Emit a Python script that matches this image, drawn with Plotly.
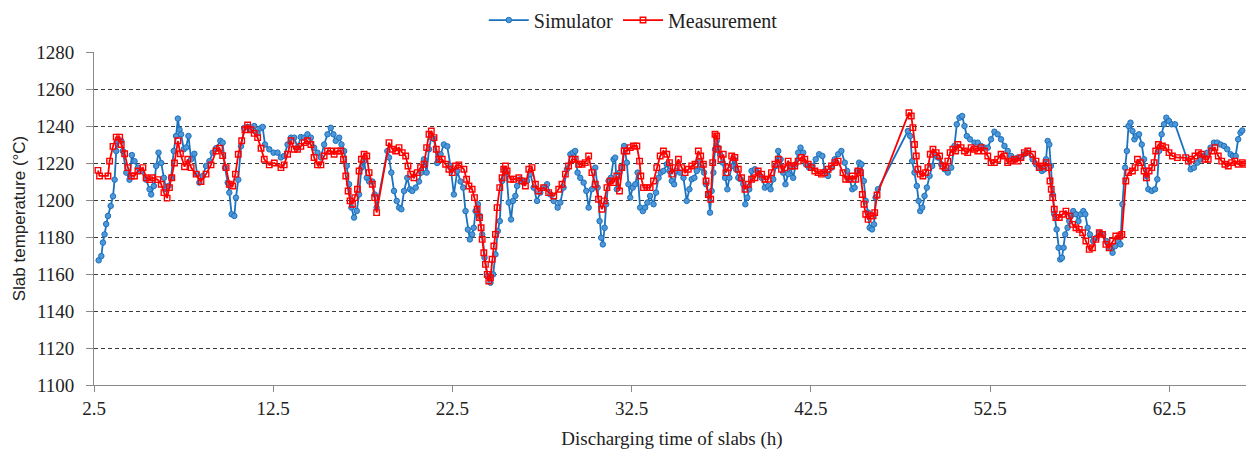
import plotly.graph_objects as go

# ---- Data ----
sim_x = [2.76, 2.91, 3.00, 3.09, 3.18, 3.28, 3.43, 3.56, 3.65, 3.74, 3.83, 4.02, 4.11, 4.30, 4.48, 4.61, 4.76, 4.95, 5.13, 5.41,
         5.60, 5.69, 5.84, 5.97, 6.10, 6.25, 6.40, 6.53, 6.66, 6.80, 6.95, 7.08, 7.18, 7.27, 7.36, 7.51, 7.64, 7.77, 7.92, 8.10,
         8.25, 8.38, 8.57, 8.75, 8.94, 9.12, 9.31, 9.55, 9.68, 9.81, 9.96, 10.05, 10.18, 10.33, 10.42, 10.55, 10.70, 10.89, 11.07, 11.26,
         11.44, 11.63, 11.78, 11.91, 12.04, 12.28, 12.52, 12.74, 12.93, 13.11, 13.30, 13.49, 13.67, 13.86, 14.04, 14.23, 14.41, 14.60, 14.78, 14.97,
         15.16, 15.34, 15.53, 15.71, 15.86, 15.99, 16.18, 16.31, 16.46, 16.60, 16.73, 16.86, 17.01, 17.16, 17.29, 17.42, 17.57, 17.72, 17.85, 18.03,
         18.16, 18.27, 18.87, 18.96, 19.09, 19.24, 19.39, 19.52, 19.65, 19.80, 19.98, 20.13, 20.26, 20.45, 20.63, 20.76, 20.91, 21.06, 21.19, 21.32,
         21.47, 21.65, 21.84, 22.02, 22.21, 22.39, 22.58, 22.77, 22.95, 23.10, 23.23, 23.36, 23.47, 23.60, 23.69, 23.79, 23.92, 24.03, 24.16, 24.29,
         24.44, 24.62, 24.77, 24.90, 25.03, 25.14, 25.27, 25.40, 25.51, 25.64, 25.77, 25.88, 26.01, 26.11, 26.29, 26.48, 26.66, 26.85, 27.03, 27.22,
         27.40, 27.59, 27.78, 27.96, 28.15, 28.37, 28.52, 28.70, 28.89, 29.08, 29.22, 29.35, 29.48, 29.63, 29.82, 29.97, 30.10, 30.28, 30.47, 30.60,
         30.71, 30.80, 30.89, 30.99, 31.08, 31.21, 31.34, 31.49, 31.58, 31.67, 31.82, 31.95, 32.08, 32.23, 32.32, 32.42, 32.56, 32.70, 32.83, 32.97,
         33.12, 33.25, 33.38, 33.53, 33.72, 33.86, 34.00, 34.12, 34.27, 34.46, 34.61, 34.74, 34.87, 35.01, 35.20, 35.39, 35.57, 35.72, 35.85, 36.00,
         36.13, 36.28, 36.41, 36.54, 36.65, 36.78, 36.87, 36.96, 37.06, 37.15, 37.24, 37.33, 37.43, 37.58, 37.71, 37.84, 37.95, 38.08, 38.21, 38.32,
         38.45, 38.58, 38.73, 38.84, 38.95, 39.06, 39.19, 39.38, 39.56, 39.75, 39.93, 40.12, 40.25, 40.40, 40.55, 40.68, 40.81, 40.95, 41.08, 41.23,
         41.36, 41.51, 41.64, 41.79, 41.92, 42.07, 42.22, 42.40, 42.59, 42.77, 42.96, 43.14, 43.27, 43.46, 43.65, 43.83, 44.02, 44.20, 44.39, 44.52,
         44.67, 44.81, 44.94, 45.07, 45.19, 45.32, 45.45, 45.56, 45.69, 45.78, 45.91, 46.02, 46.11, 46.24, 47.91, 48.04, 48.15, 48.28, 48.41, 48.51,
         48.60, 48.71, 48.84, 48.97, 49.12, 49.27, 49.40, 49.58, 49.77, 49.96, 50.14, 50.33, 50.51, 50.64, 50.79, 50.94, 51.07, 51.20, 51.38, 51.63,
         51.81, 51.99, 52.18, 52.37, 52.55, 52.74, 52.92, 53.11, 53.30, 53.48, 53.67, 53.85, 54.04, 54.22, 54.41, 54.60, 54.87, 55.06, 55.24, 55.39,
         55.52, 55.62, 55.71, 55.80, 55.89, 55.99, 56.08, 56.21, 56.32, 56.41, 56.51, 56.60, 56.69, 56.82, 56.92, 57.01, 57.14, 57.29, 57.43, 57.56,
         57.70, 57.81, 57.94, 58.07, 58.25, 58.44, 58.62, 58.81, 58.99, 59.18, 59.33, 59.48, 59.63, 59.77, 59.88, 60.03, 60.13, 60.22, 60.33, 60.44,
         60.55, 60.66, 60.81, 60.96, 61.09, 61.22, 61.33, 61.52, 61.70, 61.83, 61.93, 62.07, 62.20, 62.33, 62.48, 62.63, 62.82, 63.69, 63.87, 64.06,
         64.25, 64.43, 64.62, 64.80, 64.99, 65.17, 65.36, 65.55, 65.73, 65.92, 66.05, 66.20, 66.34, 66.47, 66.57]
sim_y = [1167.4, 1169.7, 1177, 1181.4, 1187, 1191.4, 1196.8, 1202, 1211, 1226.5, 1232, 1232, 1226.5, 1214.8, 1211, 1224.3, 1221, 1217.5, 1215.7, 1211,
         1205.8, 1203, 1207.6, 1218.4, 1225.6, 1220, 1212, 1205.8, 1207.6, 1212, 1226.5, 1234.6, 1244, 1238, 1235.5, 1227.4, 1228.4, 1234.6, 1222, 1225,
         1214, 1209.4, 1213, 1218.4, 1221, 1225.6, 1228, 1232, 1231, 1217.5, 1209.4, 1204, 1192.3, 1191.4, 1201.3, 1211, 1229, 1239, 1239.5, 1238,
         1240, 1236, 1238.7, 1239.5, 1230, 1227.4, 1225.6, 1225.6, 1223, 1223.8, 1230, 1233.7, 1233.7, 1228.3, 1234, 1233.7, 1235.5, 1233.7, 1228.3, 1225.6,
         1223, 1230, 1235.5, 1239, 1235.5, 1232, 1233.7, 1230, 1226.5, 1218.4, 1208.5, 1195.9, 1190.5, 1194.1, 1203, 1217.5, 1221, 1212, 1210, 1210,
         1203, 1195.9, 1226.5, 1223, 1214.8, 1204.9, 1199.5, 1195.9, 1195, 1204.9, 1212, 1205.8, 1204.9, 1206.7, 1210, 1214.8, 1222, 1214.8, 1227.4, 1233.7,
         1233, 1220, 1224.7, 1230, 1229, 1218.4, 1203, 1215.7, 1210, 1206.7, 1194, 1184, 1178.7, 1181.4, 1185, 1194, 1197.7, 1191.4, 1181.4, 1168.8,
         1158.9, 1155.3, 1159.8, 1170.6, 1183.2, 1188.6, 1210.3, 1216.6, 1214.8, 1198.6, 1189.5, 1199.5, 1202.2, 1207.6, 1211.2, 1209.4, 1210.3, 1214, 1206.7, 1199.5,
         1204, 1206.7, 1208.5, 1203, 1199.5, 1195.9, 1198.6, 1206.7, 1216.6, 1224.7, 1225.6, 1226.5, 1214.8, 1212, 1209.4, 1204.9, 1195.9, 1205.8, 1217.5, 1206.7,
         1188.6, 1179.6, 1176, 1185, 1197.7, 1210.3, 1212, 1222, 1222.9, 1205.8, 1214.8, 1217.5, 1229.2, 1220.2, 1208.5, 1201.3, 1206.7, 1208.5, 1214.8, 1195.9,
         1194, 1195.9, 1198.6, 1202.2, 1197.7, 1204, 1212, 1214.8, 1215.7, 1219.3, 1215.7, 1210.3, 1208.5, 1215.7, 1214.8, 1212, 1199.5, 1205.8, 1211.2, 1212,
         1215.7, 1221, 1217.5, 1214.8, 1208.5, 1203, 1193.2, 1204.9, 1214.8, 1227.4, 1231.9, 1228.3, 1224.7, 1220.2, 1212, 1205.8, 1212, 1218.4, 1222, 1216.6,
         1212, 1211.2, 1208.5, 1197.7, 1201.3, 1205.8, 1215.7, 1216.6, 1214.8, 1212, 1206.7, 1207.6, 1205.8, 1211.2, 1218.4, 1226.5, 1222, 1214.8, 1208.5, 1214,
         1217.5, 1212, 1219.3, 1225.6, 1228.3, 1225.6, 1219.3, 1217.5, 1218.4, 1222, 1224.7, 1223.8, 1215.7, 1213, 1217.5, 1222, 1224.7, 1226.5, 1220.2, 1215.7,
         1211.2, 1205.8, 1206.7, 1215.7, 1220.2, 1219.3, 1210.3, 1199.5, 1193.2, 1185, 1184.1, 1186.8, 1201.3, 1205.8, 1237.3, 1234.6, 1221, 1214.8, 1207.6, 1199.5,
         1194, 1195.9, 1202.2, 1206.7, 1213, 1218.4, 1224.7, 1223, 1219.3, 1216.6, 1214.8, 1217.5, 1229.2, 1240.9, 1244.5, 1245.4, 1240, 1234.6, 1232.8, 1231,
         1231, 1229.2, 1228.3, 1228.3, 1232.8, 1236.9, 1235.5, 1232.8, 1229.2, 1226.5, 1223.8, 1222, 1222.9, 1222.9, 1224.7, 1225.6, 1222, 1219.3, 1217.5, 1215.7,
         1216.6, 1222, 1231.9, 1230, 1218.4, 1203, 1192.3, 1184.1, 1174.2, 1167.9, 1168.8, 1174.2, 1181.4, 1185, 1188.6, 1191.4, 1194, 1192.3, 1188.6, 1192.3,
         1194, 1192.3, 1185, 1181.4, 1177.8, 1179.6, 1182.3, 1181.4, 1177.8, 1174.2, 1171.5, 1175.1, 1177.8, 1176, 1197.7, 1217.5, 1226.5, 1240, 1241.8, 1237.3,
         1232.8, 1234.6, 1235.5, 1230, 1222, 1213, 1205.8, 1204.9, 1205.8, 1211.2, 1226.5, 1235.5, 1240.9, 1244.5, 1242.7, 1240.9, 1240.9, 1216.6, 1217.5, 1220.2,
         1222, 1223.8, 1225.6, 1228.3, 1231, 1231, 1230, 1229.2, 1227.4, 1224.7, 1223.8, 1223.8, 1232.8, 1236.4, 1237.6]

meas_x = [2.72, 2.81, 3.28, 3.37, 3.56, 3.74, 3.93, 4.02, 4.21, 4.39, 4.58, 4.76, 4.95, 5.23, 5.41, 5.60, 5.78, 6.06, 6.25, 6.40,
          6.58, 6.71, 6.84, 6.99, 7.18, 7.32, 7.55, 7.73, 7.92, 8.20, 8.47, 8.75, 9.03, 9.31, 9.50, 9.68, 9.87, 10.05, 10.24, 10.39,
          10.55, 10.74, 10.92, 11.07, 11.26, 11.44, 11.63, 11.82, 12.00, 12.28, 12.56, 12.93, 13.11, 13.30, 13.49, 13.67, 13.86, 14.04, 14.23, 14.41,
          14.60, 14.78, 14.97, 15.16, 15.34, 15.53, 15.71, 15.90, 16.08, 16.27, 16.42, 16.55, 16.68, 16.79, 16.92, 17.05, 17.20, 17.29, 17.42, 17.57,
          17.72, 17.85, 18.03, 18.16, 18.27, 18.96, 19.15, 19.33, 19.52, 19.70, 19.89, 20.02, 20.17, 20.35, 20.54, 20.72, 20.91, 21.06, 21.19, 21.32,
          21.47, 21.60, 21.74, 21.93, 22.12, 22.30, 22.49, 22.67, 22.86, 23.14, 23.29, 23.42, 23.60, 23.73, 23.88, 24.01, 24.10, 24.16, 24.25, 24.34,
          24.44, 24.53, 24.62, 24.71, 24.81, 24.90, 24.99, 25.14, 25.27, 25.36, 25.46, 25.55, 25.74, 25.92, 26.20, 26.39, 26.57, 26.76, 26.94, 27.13,
          27.31, 27.59, 27.87, 28.15, 28.43, 28.61, 28.80, 28.98, 29.17, 29.35, 29.54, 29.73, 29.91, 30.10, 30.28, 30.47, 30.65, 30.84, 30.97, 31.12,
          31.30, 31.49, 31.67, 31.82, 31.95, 32.08, 32.23, 32.42, 32.60, 32.79, 32.94, 33.01, 33.16, 33.35, 33.53, 33.72, 33.90, 34.09, 34.27, 34.46,
          34.61, 34.74, 34.92, 35.11, 35.29, 35.48, 35.66, 35.85, 36.04, 36.22, 36.35, 36.50, 36.65, 36.78, 36.91, 37.02, 37.15, 37.24, 37.33, 37.48,
          37.61, 37.76, 37.89, 38.08, 38.26, 38.45, 38.63, 38.82, 39.01, 39.19, 39.38, 39.56, 39.75, 39.93, 40.12, 40.30, 40.49, 40.68, 40.86, 41.05,
          41.23, 41.42, 41.60, 41.79, 41.97, 42.16, 42.35, 42.53, 42.72, 42.90, 43.09, 43.27, 43.46, 43.65, 43.83, 44.02, 44.29, 44.44, 44.63, 44.81,
          45.00, 45.13, 45.26, 45.37, 45.46, 45.56, 45.69, 45.82, 45.97, 46.06, 46.19, 47.97, 48.10, 48.19, 48.28, 48.38, 48.47, 48.60, 48.75, 48.90,
          49.03, 49.16, 49.31, 49.49, 49.68, 49.86, 50.01, 50.14, 50.27, 50.42, 50.57, 50.70, 50.88, 51.07, 51.25, 51.44, 51.63, 51.81, 51.99, 52.18,
          52.37, 52.55, 52.74, 52.92, 53.11, 53.30, 53.48, 53.67, 53.85, 54.04, 54.22, 54.41, 54.60, 54.87, 55.06, 55.24, 55.43, 55.62, 55.76, 55.84,
          55.91, 55.99, 56.08, 56.17, 56.36, 56.54, 56.73, 56.92, 57.10, 57.29, 57.47, 57.66, 57.84, 58.03, 58.21, 58.40, 58.59, 58.77, 58.96, 59.14,
          59.33, 59.51, 59.74, 59.85, 60.07, 60.22, 60.44, 60.59, 60.72, 60.90, 61.09, 61.22, 61.37, 61.52, 61.65, 61.74, 61.89, 62.11, 62.30, 62.48,
          62.67, 62.95, 63.41, 63.56, 63.74, 63.93, 64.12, 64.30, 64.49, 64.67, 64.86, 65.04, 65.23, 65.42, 65.60, 65.79, 65.97, 66.16, 66.34, 66.57,
          66.71]
meas_y = [1216, 1213, 1213, 1221, 1229, 1234, 1234, 1230, 1225, 1217.5, 1213, 1213, 1215.7, 1217.5, 1212, 1211, 1212, 1211, 1208.5, 1204,
          1201, 1206.7, 1212, 1220, 1232, 1225, 1218, 1222, 1217.5, 1214, 1210, 1214, 1219, 1226.5, 1228, 1224, 1217.5, 1208.5, 1207.6, 1214,
          1224.7, 1232, 1238, 1240.5, 1238, 1236, 1233.7, 1228, 1222, 1219, 1220, 1217.5, 1219, 1224.7, 1232, 1227.4, 1227.4, 1229, 1231, 1232,
          1230, 1223, 1219, 1219, 1223.8, 1226.5, 1226.5, 1224.7, 1226.5, 1226.5, 1222, 1213, 1204.9, 1199.5, 1197.7, 1201.3, 1205.8, 1215.7, 1222, 1224.7,
          1223.8, 1214.8, 1208.5, 1201.3, 1193.2, 1231, 1227.4, 1226.5, 1228.3, 1225.6, 1223.8, 1218.4, 1214, 1212, 1214.8, 1217.5, 1219.3, 1228.3, 1235.5, 1237.3,
          1233.7, 1227.4, 1222, 1222, 1219.3, 1216.6, 1214.8, 1218.4, 1219, 1216.6, 1211.2, 1207.6, 1205.8, 1201.3, 1195, 1190.5, 1185, 1178.7, 1171.5, 1165.2,
          1159.8, 1156.2, 1158, 1168, 1175.1, 1181.4, 1195.9, 1206.7, 1212, 1216.6, 1218.4, 1215.7, 1211.2, 1211.2, 1212, 1210.3, 1207.6, 1216.6, 1217.5, 1208.5,
          1204.9, 1206.7, 1204, 1202.2, 1205.8, 1208.5, 1214, 1218.4, 1222, 1222, 1219.3, 1219.3, 1220.2, 1223.8, 1214.8, 1208.5, 1200.4, 1195, 1199.5, 1206.7,
          1210.3, 1209.4, 1213, 1204.9, 1217.5, 1226.5, 1226.5, 1228.3, 1229.2, 1229.2, 1221, 1213, 1206.7, 1206.7, 1206.7, 1210.3, 1217.5, 1223.8, 1226.5, 1224.7,
          1220.2, 1214, 1217.5, 1222, 1217.5, 1214.8, 1216.6, 1218.4, 1219.3, 1226.5, 1223.8, 1219.3, 1210.3, 1203, 1200.4, 1220.2, 1235.5, 1234.6, 1227.4, 1222,
          1224.7, 1214.8, 1217.5, 1223.8, 1223, 1216.6, 1212, 1205.8, 1208.5, 1211.2, 1212, 1215.7, 1214, 1211.2, 1211.2, 1214.8, 1219.3, 1222, 1216.6, 1217.5,
          1221, 1218.4, 1218.4, 1221, 1223, 1222, 1219.3, 1217.5, 1215.7, 1214.8, 1214, 1214.8, 1216.6, 1218.4, 1220.2, 1221, 1214.8, 1211.2, 1211.2, 1213,
          1211.2, 1215.7, 1214.8, 1203, 1197.7, 1192.3, 1189.5, 1191.4, 1191.4, 1193.2, 1202.7, 1247.2, 1245.4, 1239.1, 1230, 1223.8, 1216.6, 1214, 1213, 1214.8,
          1217.5, 1224.7, 1227.4, 1225.6, 1223.8, 1218.4, 1217.5, 1221, 1225.6, 1227.4, 1226.5, 1230, 1228.3, 1226.5, 1225.6, 1228.3, 1227.4, 1226.5, 1228.3, 1226.5,
          1223.8, 1220.2, 1220.2, 1222, 1224.7, 1223.8, 1220.2, 1221, 1222, 1221, 1222.9, 1225.6, 1226.5, 1224.7, 1221, 1217.5, 1218.4, 1220.2, 1217.5, 1210.3,
          1205.8, 1201.3, 1195, 1190.5, 1190.5, 1192.3, 1194, 1191.4, 1186.8, 1185, 1184.1, 1182.3, 1177.8, 1173.3, 1174.2, 1178.7, 1182.3, 1181.4, 1176, 1174.2,
          1177.8, 1180.5, 1180.5, 1181.4, 1210.3, 1214.8, 1215.7, 1217.5, 1222, 1220.2, 1215.7, 1212, 1215.7, 1217.5, 1220.2, 1226.5, 1230, 1229.2, 1228.3, 1225.6,
          1223.8, 1222.9, 1222.9, 1221, 1222, 1223.8, 1225.6, 1224.7, 1222, 1222, 1226.5, 1228.3, 1223.8, 1221, 1219.3, 1218.4, 1220.2, 1221, 1219.3, 1220.2,
          1219.3]

x_ticks = [2.5, 12.5, 22.5, 32.5, 42.5, 52.5, 62.5]
y_ticks = [1100, 1120, 1140, 1160, 1180, 1200, 1220, 1240, 1260, 1280]

SERIF = "Liberation Serif"
SANS = "Liberation Sans"

fig = go.Figure()
fig.add_trace(go.Scatter(
    x=sim_x, y=sim_y, name="Simulator", mode="lines+markers",
    line=dict(color="#1a72bf", width=1.8),
    marker=dict(symbol="circle", size=5.5, color="#4f97d6", line=dict(color="#1a72bf", width=1)),
))
fig.add_trace(go.Scatter(
    x=meas_x, y=meas_y, name="Measurement", mode="lines+markers",
    line=dict(color="#ff0000", width=1.8),
    marker=dict(symbol="square-open", size=5.5, color="#ff0000", line=dict(width=1.4)),
))

fig.update_layout(
    width=1246, height=443,
    margin=dict(l=86, r=4, t=44, b=66, autoexpand=False),
    paper_bgcolor="white", plot_bgcolor="white",
    font=dict(family=SERIF, size=19, color="#222222"),
    legend=dict(orientation="h", x=0.4665, xanchor="center", y=1.096, yanchor="middle",
                font=dict(family=SERIF, size=20, color="#222222"),
                itemwidth=40, tracegroupgap=0, bgcolor="rgba(0,0,0,0)"),
    showlegend=True,
)
fig.update_xaxes(
    range=[2.5, 67.0], tickmode="array", tickvals=x_ticks, ticktext=[str(v) for v in x_ticks],
    showgrid=False, zeroline=False, showline=True, linecolor="#8a8a8a", linewidth=1,
    ticks="outside", ticklen=6, tickcolor="#8a8a8a", automargin=False,
    tickfont=dict(family=SERIF, size=19, color="#222222"),
    title=dict(text="Discharging time of slabs (h)", font=dict(family=SERIF, size=19, color="#222222"), standoff=13),
)
fig.update_yaxes(
    range=[1100, 1280], tickmode="array", tickvals=y_ticks,
    showgrid=True, gridcolor="#3a3a3a", gridwidth=1, griddash="4px,3px",
    zeroline=False, showline=True, linecolor="#8a8a8a", linewidth=1,
    ticks="outside", ticklen=7, tickcolor="#8a8a8a", automargin=False, ticklabelstandoff=8,
    tickfont=dict(family=SERIF, size=19, color="#222222"),
    title=dict(text="Slab temperature (°C)", font=dict(family=SANS, size=17, color="#222222"), standoff=6),
)

fig.write_html("out.html")
